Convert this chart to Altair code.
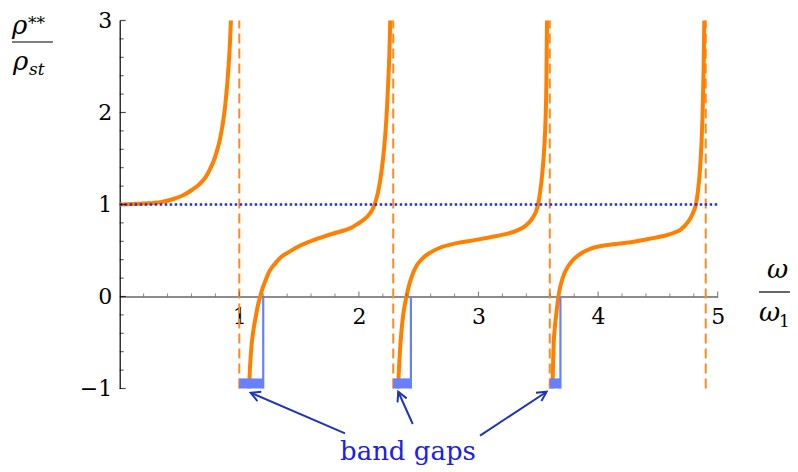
import altair as alt
import pandas as pd

# ---- data ----
b1_x = [0.0, 0.2, 0.34, 0.45, 0.53, 0.60, 0.67, 0.72, 0.755, 0.785, 0.81, 0.835, 0.853, 0.87, 0.88, 0.89, 0.90, 0.91, 0.922, 0.93]
b1_y = [1.0, 1.01, 1.025, 1.06, 1.10, 1.155, 1.225, 1.30, 1.385, 1.47, 1.57, 1.69, 1.81, 1.95, 2.05, 2.18, 2.32, 2.50, 2.76, 3.0]
b2_x = [1.081, 1.09, 1.104, 1.12, 1.137, 1.155, 1.175, 1.195, 1.215, 1.25, 1.30, 1.35, 1.41, 1.49, 1.576, 1.68, 1.80, 1.88, 1.94, 1.99, 2.036, 2.075, 2.106, 2.13, 2.148, 2.17, 2.19, 2.21, 2.223, 2.235, 2.245, 2.255, 2.262]
b2_y = [-1.0, -0.76, -0.51, -0.35, -0.225, -0.10, 0.0, 0.09, 0.16, 0.27, 0.36, 0.43, 0.48, 0.54, 0.59, 0.64, 0.69, 0.72, 0.75, 0.79, 0.83, 0.875, 0.93, 0.995, 1.07, 1.20, 1.37, 1.60, 1.80, 2.05, 2.32, 2.65, 3.0]
b3_x = [2.328, 2.336, 2.348, 2.36, 2.376, 2.398, 2.415, 2.44, 2.48, 2.537, 2.60, 2.677, 2.80, 2.955, 3.10, 3.234, 3.31, 3.373, 3.42, 3.456, 3.48, 3.498, 3.515, 3.535, 3.55, 3.56, 3.568, 3.573]
b3_y = [-1.0, -0.76, -0.5, -0.32, -0.15, 0.0, 0.10, 0.21, 0.33, 0.42, 0.48, 0.53, 0.575, 0.61, 0.645, 0.68, 0.71, 0.75, 0.80, 0.86, 0.92, 1.0, 1.13, 1.36, 1.62, 1.90, 2.35, 3.0]
b4_x = [3.618, 3.623, 3.629, 3.638, 3.648, 3.668, 3.69, 3.718, 3.755, 3.80, 3.86, 3.94, 4.08, 4.275, 4.42, 4.554, 4.63, 4.693, 4.74, 4.776, 4.80, 4.818, 4.835, 4.851, 4.864, 4.874, 4.882, 4.888]
b4_y = [-1.0, -0.75, -0.5, -0.34, -0.22, 0.0, 0.14, 0.25, 0.34, 0.41, 0.47, 0.52, 0.56, 0.59, 0.625, 0.66, 0.69, 0.73, 0.79, 0.86, 0.93, 1.0, 1.15, 1.36, 1.65, 2.0, 2.45, 3.0]

poles = [1.0, 2.287, 3.596, 4.90]
gap_lo = [1.0, 2.287, 3.596]
gap_hi = [1.20, 2.435, 3.685]
ref_level = [1.0]

x_major = [1, 2, 3, 4, 5]
y_major = [-1, 0, 1, 2, 3]
x_minor = [round(0.2 * i, 1) for i in range(26) if i % 5 != 0]
y_minor = [round(-1 + 0.2 * i, 1) for i in range(21) if i % 5 != 0]

arrow_x0 = [1.884, 2.450, 3.013]
arrow_y0 = [-1.487, -1.386, -1.513]
arrow_x1 = [1.095, 2.329, 3.570]
arrow_y1 = [-1.046, -1.035, -1.035]
arrow_angle = [293, 336, 57]
label_text = ["band gaps"]
label_x = [2.41]
label_y = [-1.777]

# ---- tables ----
curve = pd.concat([
    pd.DataFrame({"x": b1_x, "y": b1_y, "seg": "a"}),
    pd.DataFrame({"x": b2_x, "y": b2_y, "seg": "b"}),
    pd.DataFrame({"x": b3_x, "y": b3_y, "seg": "c"}),
    pd.DataFrame({"x": b4_x, "y": b4_y, "seg": "d"}),
], ignore_index=True)
pole_df = pd.DataFrame({"x": poles, "y": [-1.0] * len(poles), "y2": [3.0] * len(poles)})
gap_df = pd.DataFrame({"x": gap_lo, "x2": gap_hi, "y": [-1.0] * 3, "y2": [-0.89] * 3})
gapline_df = pd.DataFrame({"x": gap_hi, "y": [0.0] * 3, "y2": [-1.0] * 3})
ref_df = pd.DataFrame({"x": [0.0], "x2": [5.0], "y": ref_level})
xmaj_df = pd.DataFrame({"x": x_major, "y": [0.0] * len(x_major)})
xmin_df = pd.DataFrame({"x": x_minor, "y": [0.0] * len(x_minor)})
ymaj_df = pd.DataFrame({"x": [0.0] * len(y_major), "y": y_major})
ymin_df = pd.DataFrame({"x": [0.0] * len(y_minor), "y": y_minor})
arrow_df = pd.DataFrame({"x": arrow_x0, "y": arrow_y0, "x2": arrow_x1, "y2": arrow_y1, "ang": arrow_angle})
label_df = pd.DataFrame({"x": label_x, "y": label_y, "t": label_text})

W, H = 598, 368
XMIN, XMAX, YMIN, YMAX = 0, 5, -1, 3
xs = alt.Scale(domain=[XMIN, XMAX], nice=False, zero=False)
ys = alt.Scale(domain=[YMIN, YMAX], nice=False, zero=False)
SERIF = "DejaVu Serif"

xaxis = alt.Axis(values=x_major, ticks=False, grid=False, title=None, domainColor="#666666",
                 domainWidth=1.5, labelFont=SERIF, labelFontSize=22, labelColor="black",
                 labelPadding=10, labelFlush=False, labelOverlap=False, format="d",
                 offset=-H * (0 - YMIN) / (YMAX - YMIN))
yaxis = alt.Axis(values=y_major, ticks=False, grid=False, title=None, domainColor="black",
                 domainWidth=1.2, labelFont=SERIF, labelFontSize=22, labelColor="black",
                 labelPadding=8, labelFlush=False, labelOverlap=False, format="d")


def X(f="x"):
    return alt.X(f"{f}:Q", scale=xs, axis=xaxis)


def Y(f="y"):
    return alt.Y(f"{f}:Q", scale=ys, axis=yaxis)


dashed = alt.Chart(pole_df).mark_rule(color="#FF8A1E", strokeWidth=2, strokeDash=[10, 5]).encode(
    x=X(), y=Y(), y2="y2:Q")
curve_l = alt.Chart(curve).mark_line(color="#FF8000", strokeWidth=4, interpolate="monotone").encode(
    x=X(), y=Y(), detail="seg:N", order="x:Q")
dotted = alt.Chart(ref_df).mark_rule(color="#2233CC", strokeWidth=2.5, strokeDash=[2.5, 2.5]).encode(
    x=X(), x2="x2:Q", y=Y())
gap_rect = alt.Chart(gap_df).mark_rect(color="#6680FF").encode(x=X(), x2="x2:Q", y=Y(), y2="y2:Q")
gap_line = alt.Chart(gapline_df).mark_rule(color="#6680FF", strokeWidth=2.2).encode(x=X(), y=Y(), y2="y2:Q")

xmaj = alt.Chart(xmaj_df).mark_tick(orient="vertical", size=5, thickness=1.2, color="#555555", yOffset=-2.5).encode(x=X(), y=Y())
xmin = alt.Chart(xmin_df).mark_tick(orient="vertical", size=3, thickness=1, color="#555555", yOffset=-1.5).encode(x=X(), y=Y())
ymaj = alt.Chart(ymaj_df).mark_tick(orient="horizontal", size=6, thickness=1.2, color="black", xOffset=3).encode(x=X(), y=Y())
ymin = alt.Chart(ymin_df).mark_tick(orient="horizontal", size=4, thickness=1, color="black", xOffset=2).encode(x=X(), y=Y())

arrows = alt.Chart(arrow_df).mark_rule(color="#1F35B5", strokeWidth=2).encode(x=X(), y=Y(), x2="x2:Q", y2="y2:Q")
heads = alt.Chart(arrow_df).mark_point(shape="M-0.5,0.95L0,0L0.5,0.95", filled=False, color="#1F35B5",
                                       strokeWidth=2, size=400, opacity=1).encode(
    x=X("x2"), y=Y("y2"), angle=alt.Angle("ang:Q", scale=None))
label = alt.Chart(label_df).mark_text(font=SERIF, fontSize=26, color="#2020E0", align="center",
                                      baseline="alphabetic").encode(x=X(), y=Y(), text="t:N")


def txt(s, x, y, size, italic=True, align="left"):
    kw = dict(font=SERIF, fontSize=size, color="black", align=align, baseline="alphabetic")
    if italic:
        kw["fontStyle"] = "italic"
    return alt.Chart(pd.DataFrame({"t": [s]})).mark_text(**kw).encode(
        text="t:N", x=alt.value(x), y=alt.value(y))


def bar(x1, x2, y):
    return alt.Chart(pd.DataFrame({"a": [0]})).mark_rule(color="black", strokeWidth=1.2).encode(
        x=alt.value(x1), x2=alt.value(x2), y=alt.value(y))


# pixel positions relative to the plot origin (x=0,y=3)
OX, OY = 111.7 + 8, 12.5 + 8
ytitle = [
    txt("ρ", 12 - OX, 34 - OY, 26),
    txt("**", 28 - OX, 29 - OY, 17, italic=False),
    bar(12 - OX, 53 - OX, 42 - OY),
    txt("ρ", 13 - OX, 70 - OY, 26),
    txt("st", 29 - OX, 75 - OY, 17),
]
xtitle = [
    txt("ω", 767 - OX, 278 - OY, 26),
    bar(759 - OX, 790 - OX, 292 - OY),
    txt("ω", 759 - OX, 321 - OY, 26),
    txt("1", 779 - OX, 327 - OY, 17, italic=False),
]

chart = alt.layer(
    dashed, curve_l, dotted, gap_rect, gap_line, xmaj, xmin, ymaj, ymin, arrows, heads, label,
    *ytitle, *xtitle
).properties(
    width=W, height=H,
    autosize=alt.AutoSizeParams(type="none"),
    padding={"left": 111.7, "top": 12.5, "right": 72, "bottom": 84},
).configure(background="white").configure_view(stroke=None, strokeWidth=0)

chart.save("out.html", embed_options={"renderer": "svg", "actions": False})
